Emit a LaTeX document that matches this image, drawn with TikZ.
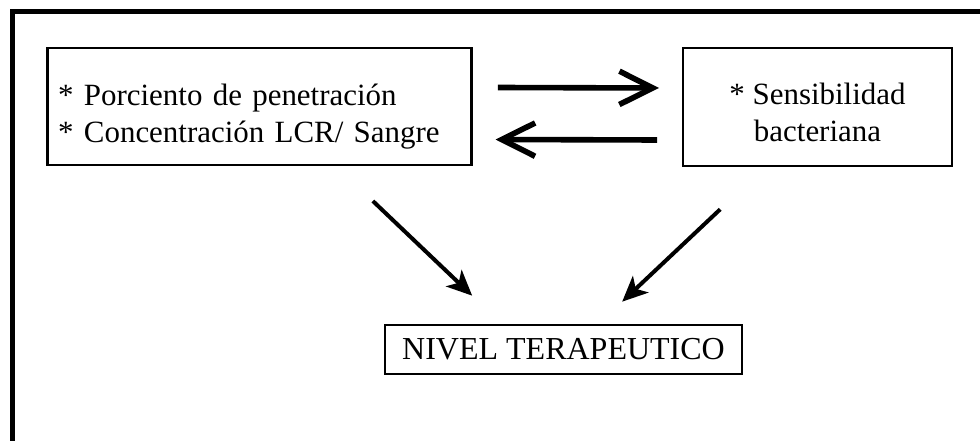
\documentclass[tikz,border=0pt]{standalone}
\usepackage{fontspec}
\setmainfont{Liberation Serif}
\usetikzlibrary{arrows.meta,positioning}

\begin{document}
\begin{tikzpicture}[
  x=0.75pt, y=-0.75pt,
  caja/.style={rectangle, draw, line width=2pt, font=\fontsize{23.2}{27.75}\selectfont},
  ida/.style={-{Straight Barb[length=25pt, width=25pt]}, line width=4.2pt},
  baja/.style={-{Stealth[length=19pt, width=17pt, inset=5pt]}, line width=3pt}
]
  \useasboundingbox (0,0) rectangle (980,441);
  % marco exterior
  \draw[line width=3.75pt] (12.5,470) -- (12.5,12) -- (1010,12);

  \node[caja, align=left, text width=302pt, inner xsep=8pt, minimum height=87.75pt] (pen) at (259.5,106.5)
    {\rule{0pt}{31pt}* Porciento de penetración\\{*} Concentración LCR/ Sangre};
  \node[caja, align=center, minimum width=201.75pt, minimum height=88.5pt] (sens) at (817.5,107)
    {\rule{0pt}{24pt}* Sensibilidad\\bacteriana};
  \node[caja, font=\fontsize{24}{28}\selectfont, minimum width=267.75pt, minimum height=36.75pt] (nivel) at (563.5,349.5)
    {NIVEL TERAPEUTICO};

  \draw[ida] ([yshift=14.25pt,xshift=18.75pt]pen.east) -- ([yshift=14.25pt,xshift=-17pt]sens.west);
  \draw[ida] ([yshift=-24.75pt,xshift=-18.5pt]sens.west) -- ([yshift=-24.75pt,xshift=17pt]pen.east);
  \draw[baja] ([xshift=85pt,yshift=-26pt]pen.south) -- ([xshift=-68.5pt,yshift=21pt]nivel.north);
  \draw[baja] ([xshift=-73pt,yshift=-31.5pt]sens.south) -- ([xshift=44pt,yshift=16.5pt]nivel.north);
\end{tikzpicture}
\end{document}
